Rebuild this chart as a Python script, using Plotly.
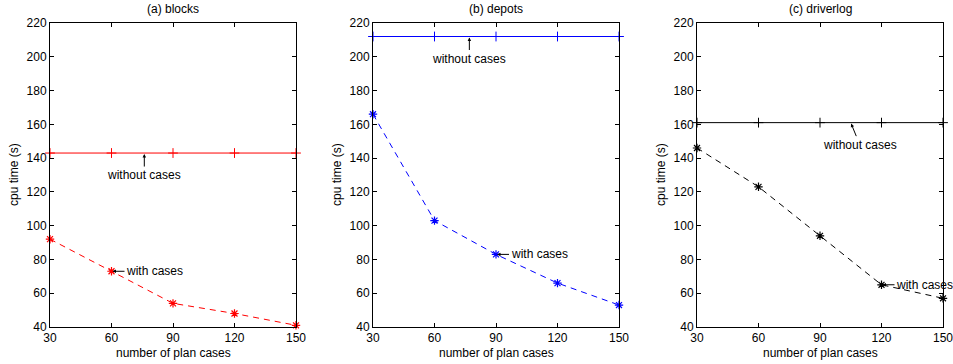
import plotly.graph_objects as go

x_cases = [30, 60, 90, 120, 150]
titles = ["(a) blocks", "(b) depots", "(c) driverlog"]
with_cases = {
    "blocks": [92, 73, 54, 48, 41],
    "depots": [166, 103, 83, 66, 53],
    "driverlog": [146, 123, 94, 65, 57],
}
without_cases = {"blocks": 143, "depots": 212, "driverlog": 161}
colors = {"blocks": "#ff0000", "depots": "#0000ff", "driverlog": "#000000"}
without_label_x = {"blocks": 76, "depots": 77, "driverlog": 105}
with_label_idx = {"blocks": 1, "depots": 2, "driverlog": 3}
x_ticks = [30, 60, 90, 120, 150]
y_ticks = [40, 60, 80, 100, 120, 140, 160, 180, 200, 220]

W, H = 953, 364
x_domains = [(50 / W, 296 / W), (373 / W, 619 / W), (697 / W, 943 / W)]
y_domain = ((H - 327) / H, (H - 23) / H)
font_family = "Liberation Sans, Arial, sans-serif"
FS = 12

fig = go.Figure()
names = ["blocks", "depots", "driverlog"]
annotations = []
for i, name in enumerate(names):
    xa = "x" if i == 0 else f"x{i+1}"
    ya = "y" if i == 0 else f"y{i+1}"
    c = colors[name]
    fig.add_trace(go.Scatter(
        x=x_cases, y=[without_cases[name]] * len(x_cases), xaxis=xa, yaxis=ya,
        mode="lines+markers", line=dict(color=c, width=1),
        marker=dict(symbol="cross-thin-open", size=7, line=dict(color=c, width=1)),
        cliponaxis=False, showlegend=False))
    fig.add_trace(go.Scatter(
        x=x_cases, y=with_cases[name], xaxis=xa, yaxis=ya,
        mode="lines+markers", line=dict(color=c, width=1, dash="6px,5px"),
        marker=dict(symbol="asterisk-open", size=7, line=dict(color=c, width=1.2)),
        cliponaxis=False, showlegend=False))
    axis_common = dict(showline=True, linecolor="black", linewidth=1, mirror="allticks",
                       ticks="inside", ticklen=4, tickcolor="black", showgrid=False,
                       zeroline=False, automargin=False, ticklabeloverflow="allow",
                       tickfont=dict(size=FS, color="black", family=font_family))
    fig.update_layout(**{
        ("xaxis" if i == 0 else f"xaxis{i+1}"): dict(
            domain=list(x_domains[i]), anchor=ya, range=[30, 150], tickvals=x_ticks,
            **axis_common),
        ("yaxis" if i == 0 else f"yaxis{i+1}"): dict(
            domain=list(y_domain), anchor=xa, range=[40, 220], tickvals=y_ticks,
            **axis_common),
    })
    xc = (x_domains[i][0] + x_domains[i][1]) / 2
    # title
    annotations.append(dict(
        text=titles[i], xref="paper", yref="paper", x=xc, y=(H - 9) / H,
        showarrow=False, font=dict(size=FS, color="black", family=font_family),
        xanchor="center", yanchor="middle"))
    # axis titles
    annotations.append(dict(
        text="number of plan cases", xref="paper", yref="paper", x=xc, y=(H - 353) / H,
        showarrow=False, font=dict(size=FS, color="black", family=font_family),
        xanchor="center", yanchor="middle"))
    annotations.append(dict(
        text="cpu time (s)", xref="paper", yref="paper",
        x=(x_domains[i][0] * W - 36) / W, y=(y_domain[0] + y_domain[1]) / 2,
        textangle=-90, showarrow=False,
        font=dict(size=FS, color="black", family=font_family),
        xanchor="center", yanchor="middle"))
    # without cases annotation
    annotations.append(dict(
        text="without cases", x=without_label_x[name], y=without_cases[name],
        xref=xa, yref=ya, showarrow=True, arrowhead=2, arrowsize=0.7, arrowwidth=1,
        arrowcolor="black", ax=9 if name == "driverlog" else 0, ay=22, standoff=1,
        font=dict(size=FS, color="black", family=font_family)))
    # with cases annotation
    k = with_label_idx[name]
    annotations.append(dict(
        text="with cases", x=x_cases[k], y=with_cases[name][k],
        xref=xa, yref=ya, showarrow=True, arrowhead=2, arrowsize=0.7, arrowwidth=1,
        arrowcolor="black", ax=43, ay=0, standoff=1,
        font=dict(size=FS, color="black", family=font_family)))

fig.update_layout(
    width=W, height=H, margin=dict(l=0, r=0, t=0, b=0, autoexpand=False),
    paper_bgcolor="white", plot_bgcolor="white",
    annotations=annotations, font=dict(family=font_family, color="black"))

fig.write_html("out.html", config={"displayModeBar": False},
               post_script="document.body.style.margin='0';")
